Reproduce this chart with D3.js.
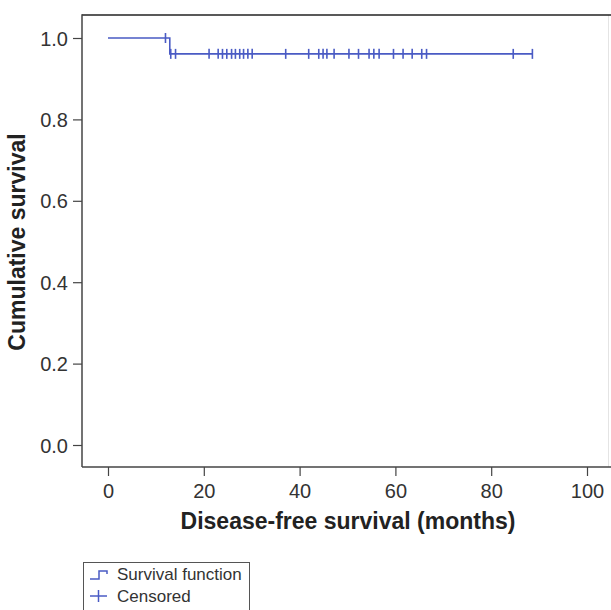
<!DOCTYPE html>
<html><head><meta charset="utf-8">
<script src="https://cdn.jsdelivr.net/npm/d3@7"></script>
<style>body{margin:0;background:#fff}svg{display:block}text{font-family:"Liberation Sans",Arial,sans-serif}</style>
</head><body><svg id="c" width="611" height="610"></svg>
<script>
// Data
const xTicks = [0, 20, 40, 60, 80, 100];
const yTicks = [0.0, 0.2, 0.4, 0.6, 0.8, 1.0];
const stepTimes = [0, 12.9, 88.6];
const stepSurv = [1.0, 0.961, 0.961];
const censoredUpperTimes = [12.0];
const censoredLowerTimes = [13.1, 14.1, 21.1, 23.0, 23.9, 24.8, 25.8, 26.6, 27.5, 28.3, 29.2, 30.1,
  37.1, 41.9, 44.0, 44.9, 45.7, 47.2, 50.3, 52.3, 54.5, 55.5, 56.6, 59.6, 61.6, 63.5, 65.5, 66.5, 84.6, 88.6];
const legendLabels = ["Survival function", "Censored"];

const svg = d3.select("#c");
const blue = "#4a5bc4";
const x = d3.scaleLinear().domain([0, 100]).range([108, 587]);
const y = d3.scaleLinear().domain([0, 1]).range([445, 38]);
const L = 82, T = 15, B = 467, R = 611;

// frame
svg.append("line").attr("x1", 608.5).attr("x2", 608.5).attr("y1", T).attr("y2", B).attr("stroke", "#e4e4e4").attr("stroke-width", 1);
svg.append("line").attr("x1", L).attr("x2", R).attr("y1", T).attr("y2", T).attr("stroke", "#222").attr("stroke-width", 1.5);

// axes
const gx = svg.append("g").attr("transform", `translate(0,${B})`)
  .call(d3.axisBottom(x).tickValues(xTicks).tickFormat(d3.format("d")).tickSize(9).tickSizeOuter(0));
const gy = svg.append("g").attr("transform", `translate(${L},0)`)
  .call(d3.axisLeft(y).tickValues(yTicks).tickFormat(d3.format(".1f")).tickSize(9).tickSizeOuter(0));
[gx, gy].forEach(g => {
  g.select(".domain").remove();
  g.selectAll(".tick line").attr("stroke", "#444").attr("stroke-width", 1.2);
  g.selectAll(".tick text").attr("fill", "#333").style("font-size", "20px");
});
gx.selectAll(".tick text").attr("y", 12).attr("dy", "0.95em");
gy.selectAll(".tick text").attr("x", -14).attr("dy", "0.35em");
svg.append("line").attr("x1", L).attr("x2", L).attr("y1", T - 0.75).attr("y2", B).attr("stroke", "#444").attr("stroke-width", 1.5);
svg.append("line").attr("x1", L).attr("x2", R).attr("y1", B).attr("y2", B).attr("stroke", "#444").attr("stroke-width", 1.5);

// axis titles
svg.append("text").attr("x", 348).attr("y", 529).attr("text-anchor", "middle")
  .style("font-size", "23px").style("font-weight", "bold").attr("fill", "#222").text("Disease-free survival (months)");
svg.append("text").attr("transform", "translate(25,242) rotate(-90)").attr("text-anchor", "middle")
  .style("font-size", "23px").style("font-weight", "bold").attr("fill", "#222").text("Cumulative survival");

// survival step line
const pts = stepTimes.map((t, i) => [t, stepSurv[i]]);
svg.append("path").datum(pts)
  .attr("d", d3.line().x(d => x(d[0])).y(d => y(d[1])).curve(d3.curveStepAfter))
  .attr("fill", "none").attr("stroke", blue).attr("stroke-width", 1.6);

// censor marks
const cens = censoredUpperTimes.map(t => [t, 1.0]).concat(censoredLowerTimes.map(t => [t, stepSurv[1]]));
svg.append("g").selectAll("line").data(cens).join("line")
  .attr("x1", d => x(d[0])).attr("x2", d => x(d[0]))
  .attr("y1", d => y(d[1]) - 5).attr("y2", d => y(d[1]) + 5)
  .attr("stroke", blue).attr("stroke-width", 1.6);

// legend
const lg = svg.append("g");
lg.append("rect").attr("x", 83.5).attr("y", 562.5).attr("width", 166).attr("height", 60)
  .attr("fill", "none").attr("stroke", "#555").attr("stroke-width", 1);
lg.append("path").attr("d", "M90,579 H99 V571 H107 V574").attr("fill", "none").attr("stroke", blue).attr("stroke-width", 1.5);
lg.append("line").attr("x1", 90).attr("x2", 107).attr("y1", 596).attr("y2", 596).attr("stroke", blue).attr("stroke-width", 1.5);
lg.append("line").attr("x1", 98.5).attr("x2", 98.5).attr("y1", 590).attr("y2", 602).attr("stroke", blue).attr("stroke-width", 1.5);
lg.selectAll("text.l").data(legendLabels).join("text").attr("class", "l")
  .attr("x", 117).attr("y", (d, i) => 580 + i * 22).style("font-size", "17px").attr("fill", "#333").text(d => d);
</script></body></html>
